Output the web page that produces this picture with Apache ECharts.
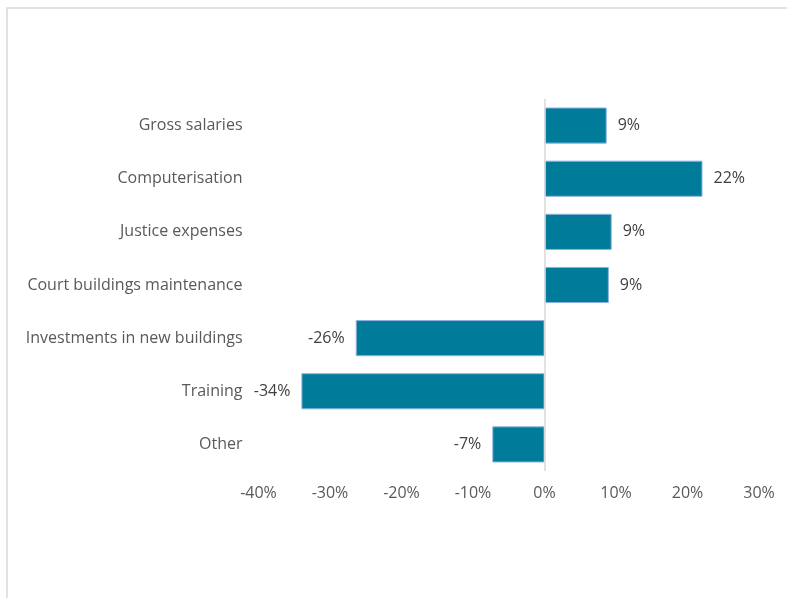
<!DOCTYPE html>
<html>
<head>
<meta charset="utf-8">
<script src="https://cdn.jsdelivr.net/npm/echarts@6/dist/echarts.min.js"></script>
<style>
  html, body { margin: 0; padding: 0; background: #ffffff; }
  #chart { width: 787px; height: 598px; }
</style>
</head>
<body>
<div id="chart"></div>
<script>
// Budget change by expense category (share, %)
const categories = [
  'Gross salaries',
  'Computerisation',
  'Justice expenses',
  'Court buildings maintenance',
  'Investments in new buildings',
  'Training',
  'Other'
];
const changes = [8.7, 22.1, 9.4, 9.0, -26.4, -34.0, -7.3];
const axisMin = -40;
const axisMax = 30;
const axisStep = 10;

const FONT = '"Open Sans", "Liberation Sans", Arial, sans-serif';

const chart = echarts.init(document.getElementById('chart'), null, { renderer: 'canvas' });

chart.setOption({
  backgroundColor: '#ffffff',
  animation: false,
  graphic: [{
    type: 'rect',
    shape: { x: 7, y: 8, width: 900, height: 700 },
    style: { fill: 'none', stroke: '#d9d9d9', lineWidth: 1.5 },
    silent: true
  }],
  grid: { left: 258.5, right: 28, top: 99, bottom: 127, containLabel: false },
  xAxis: {
    type: 'value',
    min: axisMin,
    max: axisMax,
    interval: axisStep,
    axisLine: { show: false },
    axisTick: { show: false },
    splitLine: { show: false },
    axisLabel: {
      margin: 14,
      color: '#595959',
      fontFamily: FONT,
      fontSize: 16,
      formatter: v => v + '%'
    }
  },
  yAxis: {
    type: 'category',
    inverse: true,
    data: categories,
    axisLine: { show: false },
    axisTick: { show: false },
    splitLine: { show: false },
    axisLabel: {
      margin: 16,
      color: '#595959',
      fontFamily: FONT,
      fontSize: 16
    }
  },
  series: [{
    type: 'bar',
    data: changes.map(v => v < 0
      ? { value: v, label: { position: 'left' } }   // negative bars: label on the left
      : { value: v }),
    barCategoryGap: '32%',
    itemStyle: {
      color: '#007b99',
      borderColor: '#8db3e2',
      borderWidth: 1
    },
    label: {
      show: true,
      position: 'right',
      distance: 11,
      color: '#404040',
      fontFamily: FONT,
      fontSize: 16,
      formatter: p => Math.round(p.value) + '%'
    },
    markLine: {
      silent: true,
      symbol: 'none',
      label: { show: false },
      lineStyle: { color: '#d9d9d9', width: 1.5, type: 'solid' },
      data: [{ xAxis: 0 }]
    }
  }]
});
</script>
</body>
</html>
